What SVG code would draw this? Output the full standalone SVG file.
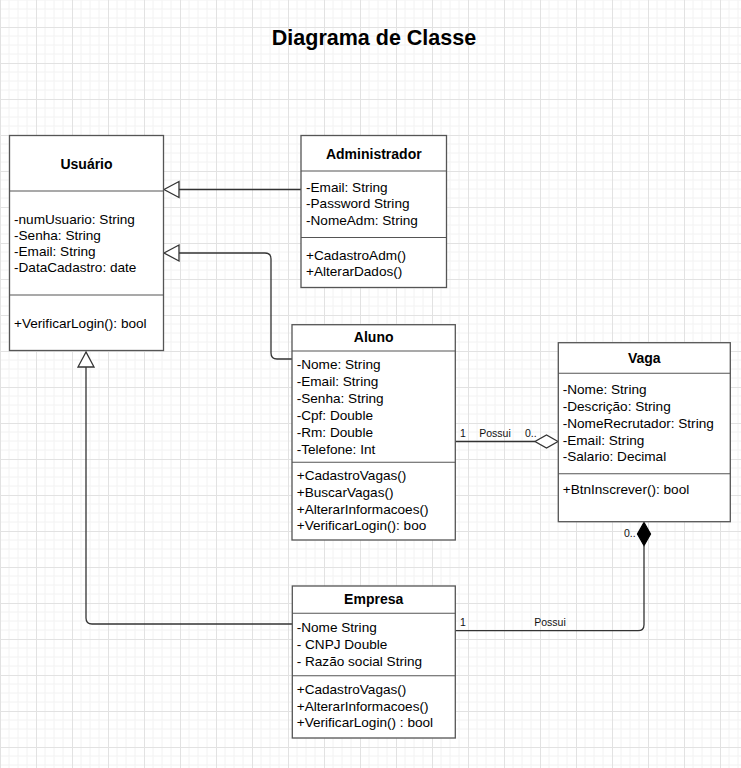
<svg xmlns="http://www.w3.org/2000/svg" width="741" height="768" viewBox="0 0 741 768">
<defs>
<pattern id="grid" x="0" y="27" width="36" height="36" patternUnits="userSpaceOnUse">
<path d="M9 0V36M18 0V36M27 0V36M0 9H36M0 18H36M0 27H36" stroke="#f2f2f2" stroke-width="1" fill="none"/>
<path d="M0.5 0V36M0 0.5H36" stroke="#e2e2e2" stroke-width="1" fill="none"/>
</pattern>
<style>
.box{fill:#fff;stroke:#555;stroke-width:1.3}
.div{stroke:#555;stroke-width:1.1}
.t{font-family:"Liberation Sans",Arial,sans-serif;font-size:14px;font-weight:bold;fill:#000;text-anchor:middle}
.a{font-family:"Liberation Sans",Arial,sans-serif;font-size:13.6px;fill:#000}
.l{font-family:"Liberation Sans",Arial,sans-serif;font-size:10.5px;fill:#111}
.c{fill:none;stroke:#333;stroke-width:1.3}
.h{fill:#fff;stroke:#333;stroke-width:1.3}
.f{fill:#000;stroke:#000;stroke-width:1.3}
</style>
</defs>
<rect width="741" height="768" fill="#fff"/>
<rect width="741" height="768" fill="url(#grid)"/>
<text x="374" y="45" style="font-family:'Liberation Sans',Arial,sans-serif;font-size:21.5px;font-weight:bold;text-anchor:middle">Diagrama de Classe</text>

<g id="connectors">
<path class="c" d="M301 189.5H179"/>
<polygon class="h" points="164,189.5 179,181.5 179,197.5"/>
<path class="c" d="M292 359H277Q271 359 271 353V259Q271 253 265 253H179"/>
<polygon class="h" points="164,253 179,245 179,261"/>
<path class="c" d="M292 624H92Q86 624 86 618V367"/>
<polygon class="h" points="86,352 78,367 94,367"/>
<path class="c" d="M455 441.5H535"/>
<polygon class="h" points="558,441.5 546.5,435 535,441.5 546.5,448"/>
<text class="l" x="460" y="437">1</text>
<text class="l" x="495" y="437" text-anchor="middle">Possui</text>
<text class="l" x="525" y="437">0..</text>
<path class="c" d="M455 630.7H638Q644 630.7 644 624.7V545.5"/>
<polygon class="f" points="644,522.5 650.5,534 644,545.5 637.5,534"/>
<text class="l" x="460" y="626">1</text>
<text class="l" x="550" y="626" text-anchor="middle">Possui</text>
<text class="l" x="624" y="536.5">0..</text>
</g>

<g id="usuario">
<rect class="box" x="9.5" y="135.5" width="154" height="215"/>
<line class="div" x1="9.5" y1="191" x2="163.5" y2="191"/>
<line class="div" x1="9.5" y1="295" x2="163.5" y2="295"/>
<text class="t" x="86.5" y="169">Usuário</text>
<text class="a" x="14" y="223.5">-numUsuario: String</text>
<text class="a" x="14" y="239.5">-Senha: String</text>
<text class="a" x="14" y="255.5">-Email: String</text>
<text class="a" x="14" y="271.5">-DataCadastro: date</text>
<text class="a" x="14" y="327.5">+VerificarLogin(): bool</text>
</g>

<g id="administrador">
<rect class="box" x="301" y="135.5" width="145.5" height="152"/>
<line class="div" x1="301" y1="171" x2="446.5" y2="171"/>
<line class="div" x1="301" y1="237.5" x2="446.5" y2="237.5"/>
<text class="t" x="373.8" y="158.5">Administrador</text>
<text class="a" x="306" y="192">-Email: String</text>
<text class="a" x="306" y="208">-Password String</text>
<text class="a" x="306" y="224.5">-NomeAdm: String</text>
<text class="a" x="306" y="259.5">+CadastroAdm()</text>
<text class="a" x="306" y="275.5">+AlterarDados()</text>
</g>

<g id="aluno">
<rect class="box" x="292" y="324.7" width="163.3" height="215.3"/>
<line class="div" x1="292" y1="351" x2="455.3" y2="351"/>
<line class="div" x1="292" y1="462.3" x2="455.3" y2="462.3"/>
<text class="t" x="373.7" y="341.7">Aluno</text>
<text class="a" x="296.7" y="369">-Nome: String</text>
<text class="a" x="296.7" y="386">-Email: String</text>
<text class="a" x="296.7" y="403">-Senha: String</text>
<text class="a" x="296.7" y="420">-Cpf: Double</text>
<text class="a" x="296.7" y="436.5">-Rm: Double</text>
<text class="a" x="296.7" y="453.5">-Telefone: Int</text>
<text class="a" x="296.7" y="480">+CadastroVagas()</text>
<text class="a" x="296.7" y="497">+BuscarVagas()</text>
<text class="a" x="296.7" y="513.5">+AlterarInformacoes()</text>
<text class="a" x="296.7" y="530">+VerificarLogin(): boo</text>
</g>

<g id="vaga">
<rect class="box" x="558.3" y="342.7" width="172" height="179"/>
<line class="div" x1="558.3" y1="373.3" x2="730.3" y2="373.3"/>
<line class="div" x1="558.3" y1="473.7" x2="730.3" y2="473.7"/>
<text class="t" x="644.3" y="363.3">Vaga</text>
<text class="a" x="562.7" y="394">-Nome: String</text>
<text class="a" x="562.7" y="410.5">-Descrição: String</text>
<text class="a" x="562.7" y="427.5">-NomeRecrutador: String</text>
<text class="a" x="562.7" y="444.5">-Email: String</text>
<text class="a" x="562.7" y="461">-Salario: Decimal</text>
<text class="a" x="562.7" y="494">+BtnInscrever(): bool</text>
</g>

<g id="empresa">
<rect class="box" x="292.3" y="586" width="163" height="152"/>
<line class="div" x1="292.3" y1="613.3" x2="455.3" y2="613.3"/>
<line class="div" x1="292.3" y1="675.7" x2="455.3" y2="675.7"/>
<text class="t" x="373.7" y="604.3">Empresa</text>
<text class="a" x="296.7" y="632">-Nome String</text>
<text class="a" x="296.7" y="648.5">- CNPJ Double</text>
<text class="a" x="296.7" y="665.5">- Razão social String</text>
<text class="a" x="296.7" y="694">+CadastroVagas()</text>
<text class="a" x="296.7" y="710.5">+AlterarInformacoes()</text>
<text class="a" x="296.7" y="727">+VerificarLogin() : bool</text>
</g>
</svg>
